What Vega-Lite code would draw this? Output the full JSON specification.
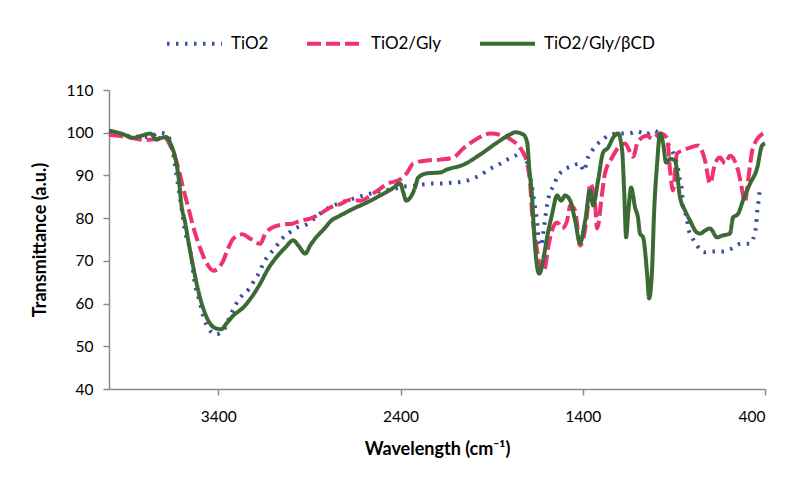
{
  "$schema": "https://vega.github.io/schema/vega-lite/v6.json",
  "autosize": "none",
  "width": 656,
  "height": 299,
  "padding": {"left": 109, "top": 90, "right": 28, "bottom": 91},
  "background": "white",
  "config": {
    "font": "Lato",
    "view": {"stroke": null},
    "axis": {
      "grid": false,
      "domainColor": "#8c8c8c",
      "domainWidth": 1.5,
      "tickColor": "#8c8c8c",
      "tickWidth": 1.5,
      "tickSize": 6,
      "labelColor": "#000000",
      "labelFontSize": 15.5,
      "titleFontSize": 18,
      "titleFontWeight": "bold",
      "titleColor": "#000000"
    },
    "legend": {"labelFontSize": 17, "labelColor": "#000000"}
  },
  "data": {
    "values": [
      {"s": "TiO2", "w": 4000, "t": 99.8}, {"s": "TiO2", "w": 3900, "t": 99.3}, {"s": "TiO2", "w": 3820, "t": 99.0}, {"s": "TiO2", "w": 3760, "t": 99.3}, {"s": "TiO2", "w": 3729, "t": 100}, {"s": "TiO2", "w": 3685, "t": 99.8}, {"s": "TiO2", "w": 3658, "t": 97}, {"s": "TiO2", "w": 3608, "t": 84}, {"s": "TiO2", "w": 3581, "t": 76.6}, {"s": "TiO2", "w": 3551, "t": 71.7}, {"s": "TiO2", "w": 3532, "t": 65.4}, {"s": "TiO2", "w": 3504, "t": 60.7}, {"s": "TiO2", "w": 3477, "t": 56.3}, {"s": "TiO2", "w": 3455, "t": 54.2}, {"s": "TiO2", "w": 3413, "t": 52.8}, {"s": "TiO2", "w": 3373, "t": 53.7}, {"s": "TiO2", "w": 3329, "t": 57.7}, {"s": "TiO2", "w": 3301, "t": 60}, {"s": "TiO2", "w": 3268, "t": 62}, {"s": "TiO2", "w": 3230, "t": 63.5}, {"s": "TiO2", "w": 3203, "t": 65.4}, {"s": "TiO2", "w": 3175, "t": 67.3}, {"s": "TiO2", "w": 3153, "t": 69.4}, {"s": "TiO2", "w": 3120, "t": 71.5}, {"s": "TiO2", "w": 3087, "t": 73.1}, {"s": "TiO2", "w": 3054, "t": 75}, {"s": "TiO2", "w": 3011, "t": 76.6}, {"s": "TiO2", "w": 2967, "t": 77.8}, {"s": "TiO2", "w": 2917, "t": 78.5}, {"s": "TiO2", "w": 2874, "t": 79.9}, {"s": "TiO2", "w": 2835, "t": 81.3}, {"s": "TiO2", "w": 2791, "t": 82.5}, {"s": "TiO2", "w": 2742, "t": 83.4}, {"s": "TiO2", "w": 2693, "t": 84.1}, {"s": "TiO2", "w": 2643, "t": 84.8}, {"s": "TiO2", "w": 2588, "t": 85.5}, {"s": "TiO2", "w": 2539, "t": 86}, {"s": "TiO2", "w": 2490, "t": 86.5}, {"s": "TiO2", "w": 2429, "t": 86.9}, {"s": "TiO2", "w": 2380, "t": 87.4}, {"s": "TiO2", "w": 2331, "t": 87.6}, {"s": "TiO2", "w": 2276, "t": 87.9}, {"s": "TiO2", "w": 2226, "t": 88.1}, {"s": "TiO2", "w": 2172, "t": 88.1}, {"s": "TiO2", "w": 2117, "t": 88.3}, {"s": "TiO2", "w": 2062, "t": 88.5}, {"s": "TiO2", "w": 2007, "t": 89.2}, {"s": "TiO2", "w": 1958, "t": 90.2}, {"s": "TiO2", "w": 1914, "t": 91.4}, {"s": "TiO2", "w": 1864, "t": 92.5}, {"s": "TiO2", "w": 1815, "t": 93.7}, {"s": "TiO2", "w": 1771, "t": 94.6}, {"s": "TiO2", "w": 1735, "t": 95.3}, {"s": "TiO2", "w": 1705, "t": 93}, {"s": "TiO2", "w": 1685, "t": 89}, {"s": "TiO2", "w": 1672, "t": 85.5}, {"s": "TiO2", "w": 1650, "t": 78.7}, {"s": "TiO2", "w": 1639, "t": 74}, {"s": "TiO2", "w": 1628, "t": 73.5}, {"s": "TiO2", "w": 1618, "t": 76.2}, {"s": "TiO2", "w": 1596, "t": 83}, {"s": "TiO2", "w": 1585, "t": 85.3}, {"s": "TiO2", "w": 1563, "t": 87.4}, {"s": "TiO2", "w": 1541, "t": 89.5}, {"s": "TiO2", "w": 1508, "t": 91.2}, {"s": "TiO2", "w": 1464, "t": 92.1}, {"s": "TiO2", "w": 1415, "t": 92.8}, {"s": "TiO2", "w": 1393, "t": 91}, {"s": "TiO2", "w": 1376, "t": 93.7}, {"s": "TiO2", "w": 1349, "t": 95.8}, {"s": "TiO2", "w": 1316, "t": 97.5}, {"s": "TiO2", "w": 1294, "t": 98.2}, {"s": "TiO2", "w": 1250, "t": 99.6}, {"s": "TiO2", "w": 1206, "t": 99.8}, {"s": "TiO2", "w": 1151, "t": 99.8}, {"s": "TiO2", "w": 1102, "t": 100.3}, {"s": "TiO2", "w": 1053, "t": 99.6}, {"s": "TiO2", "w": 1014, "t": 100.5}, {"s": "TiO2", "w": 981, "t": 99.8}, {"s": "TiO2", "w": 937, "t": 97.7}, {"s": "TiO2", "w": 910, "t": 95.8}, {"s": "TiO2", "w": 883, "t": 92.8}, {"s": "TiO2", "w": 866, "t": 88.8}, {"s": "TiO2", "w": 855, "t": 86}, {"s": "TiO2", "w": 850, "t": 82.3}, {"s": "TiO2", "w": 828, "t": 80}, {"s": "TiO2", "w": 822, "t": 77.8}, {"s": "TiO2", "w": 800, "t": 75.5}, {"s": "TiO2", "w": 773, "t": 73.6}, {"s": "TiO2", "w": 735, "t": 72}, {"s": "TiO2", "w": 685, "t": 72.2}, {"s": "TiO2", "w": 630, "t": 72.2}, {"s": "TiO2", "w": 581, "t": 72.9}, {"s": "TiO2", "w": 532, "t": 74}, {"s": "TiO2", "w": 482, "t": 74}, {"s": "TiO2", "w": 460, "t": 75.9}, {"s": "TiO2", "w": 449, "t": 78.2}, {"s": "TiO2", "w": 444, "t": 81}, {"s": "TiO2", "w": 438, "t": 83}, {"s": "TiO2", "w": 433, "t": 85}, {"s": "TiO2", "w": 427, "t": 87.4},

      {"s": "TiO2/Gly", "w": 4000, "t": 99.5}, {"s": "TiO2/Gly", "w": 3900, "t": 99.0}, {"s": "TiO2/Gly", "w": 3800, "t": 98.3}, {"s": "TiO2/Gly", "w": 3740, "t": 98.5}, {"s": "TiO2/Gly", "w": 3700, "t": 99}, {"s": "TiO2/Gly", "w": 3658, "t": 96.5}, {"s": "TiO2/Gly", "w": 3619, "t": 91.6}, {"s": "TiO2/Gly", "w": 3592, "t": 86.9}, {"s": "TiO2/Gly", "w": 3565, "t": 82.5}, {"s": "TiO2/Gly", "w": 3532, "t": 77.1}, {"s": "TiO2/Gly", "w": 3499, "t": 72.9}, {"s": "TiO2/Gly", "w": 3466, "t": 69.6}, {"s": "TiO2/Gly", "w": 3427, "t": 67.7}, {"s": "TiO2/Gly", "w": 3378, "t": 69.6}, {"s": "TiO2/Gly", "w": 3351, "t": 72.4}, {"s": "TiO2/Gly", "w": 3318, "t": 75.2}, {"s": "TiO2/Gly", "w": 3268, "t": 76.2}, {"s": "TiO2/Gly", "w": 3225, "t": 75.2}, {"s": "TiO2/Gly", "w": 3170, "t": 74}, {"s": "TiO2/Gly", "w": 3142, "t": 76.4}, {"s": "TiO2/Gly", "w": 3104, "t": 77.8}, {"s": "TiO2/Gly", "w": 3049, "t": 78.5}, {"s": "TiO2/Gly", "w": 2994, "t": 78.7}, {"s": "TiO2/Gly", "w": 2950, "t": 79.4}, {"s": "TiO2/Gly", "w": 2896, "t": 79.9}, {"s": "TiO2/Gly", "w": 2841, "t": 81}, {"s": "TiO2/Gly", "w": 2786, "t": 82.5}, {"s": "TiO2/Gly", "w": 2731, "t": 83.3}, {"s": "TiO2/Gly", "w": 2676, "t": 84.3}, {"s": "TiO2/Gly", "w": 2621, "t": 84.1}, {"s": "TiO2/Gly", "w": 2550, "t": 85.8}, {"s": "TiO2/Gly", "w": 2457, "t": 88.3}, {"s": "TiO2/Gly", "w": 2413, "t": 88.8}, {"s": "TiO2/Gly", "w": 2363, "t": 90.7}, {"s": "TiO2/Gly", "w": 2331, "t": 92.8}, {"s": "TiO2/Gly", "w": 2254, "t": 93.5}, {"s": "TiO2/Gly", "w": 2182, "t": 93.7}, {"s": "TiO2/Gly", "w": 2111, "t": 94.2}, {"s": "TiO2/Gly", "w": 2056, "t": 96.3}, {"s": "TiO2/Gly", "w": 1980, "t": 98.6}, {"s": "TiO2/Gly", "w": 1908, "t": 99.8}, {"s": "TiO2/Gly", "w": 1837, "t": 99.3}, {"s": "TiO2/Gly", "w": 1788, "t": 98.2}, {"s": "TiO2/Gly", "w": 1744, "t": 96.5}, {"s": "TiO2/Gly", "w": 1705, "t": 92.8}, {"s": "TiO2/Gly", "w": 1689, "t": 88.1}, {"s": "TiO2/Gly", "w": 1678, "t": 81}, {"s": "TiO2/Gly", "w": 1661, "t": 75.5}, {"s": "TiO2/Gly", "w": 1645, "t": 70.8}, {"s": "TiO2/Gly", "w": 1623, "t": 67.3}, {"s": "TiO2/Gly", "w": 1607, "t": 68.4}, {"s": "TiO2/Gly", "w": 1590, "t": 73.1}, {"s": "TiO2/Gly", "w": 1563, "t": 77.8}, {"s": "TiO2/Gly", "w": 1541, "t": 79}, {"s": "TiO2/Gly", "w": 1513, "t": 77.6}, {"s": "TiO2/Gly", "w": 1486, "t": 79.4}, {"s": "TiO2/Gly", "w": 1469, "t": 83}, {"s": "TiO2/Gly", "w": 1442, "t": 81.8}, {"s": "TiO2/Gly", "w": 1415, "t": 73.6}, {"s": "TiO2/Gly", "w": 1376, "t": 81}, {"s": "TiO2/Gly", "w": 1360, "t": 88.1}, {"s": "TiO2/Gly", "w": 1332, "t": 83}, {"s": "TiO2/Gly", "w": 1321, "t": 77.6}, {"s": "TiO2/Gly", "w": 1294, "t": 85.8}, {"s": "TiO2/Gly", "w": 1278, "t": 90.5}, {"s": "TiO2/Gly", "w": 1239, "t": 94.2}, {"s": "TiO2/Gly", "w": 1206, "t": 96.5}, {"s": "TiO2/Gly", "w": 1168, "t": 97.5}, {"s": "TiO2/Gly", "w": 1124, "t": 94.4}, {"s": "TiO2/Gly", "w": 1097, "t": 98}, {"s": "TiO2/Gly", "w": 1047, "t": 99.3}, {"s": "TiO2/Gly", "w": 1020, "t": 98.6}, {"s": "TiO2/Gly", "w": 976, "t": 99.8}, {"s": "TiO2/Gly", "w": 937, "t": 98.8}, {"s": "TiO2/Gly", "w": 921, "t": 91.2}, {"s": "TiO2/Gly", "w": 905, "t": 86.5}, {"s": "TiO2/Gly", "w": 883, "t": 95.1}, {"s": "TiO2/Gly", "w": 855, "t": 95.8}, {"s": "TiO2/Gly", "w": 811, "t": 96.5}, {"s": "TiO2/Gly", "w": 767, "t": 97}, {"s": "TiO2/Gly", "w": 729, "t": 93.5}, {"s": "TiO2/Gly", "w": 702, "t": 88.1}, {"s": "TiO2/Gly", "w": 674, "t": 92.8}, {"s": "TiO2/Gly", "w": 647, "t": 94.2}, {"s": "TiO2/Gly", "w": 619, "t": 92.8}, {"s": "TiO2/Gly", "w": 592, "t": 94.6}, {"s": "TiO2/Gly", "w": 548, "t": 91.2}, {"s": "TiO2/Gly", "w": 532, "t": 88.1}, {"s": "TiO2/Gly", "w": 510, "t": 83.7}, {"s": "TiO2/Gly", "w": 493, "t": 88.8}, {"s": "TiO2/Gly", "w": 466, "t": 96.5}, {"s": "TiO2/Gly", "w": 411, "t": 99.8}, {"s": "TiO2/Gly", "w": 400, "t": 100},

      {"s": "TiO2/Gly/βCD", "w": 4000, "t": 100.5}, {"s": "TiO2/Gly/βCD", "w": 3932, "t": 99.8}, {"s": "TiO2/Gly/βCD", "w": 3866, "t": 98.8}, {"s": "TiO2/Gly/βCD", "w": 3822, "t": 99.3}, {"s": "TiO2/Gly/βCD", "w": 3773, "t": 99.8}, {"s": "TiO2/Gly/βCD", "w": 3740, "t": 98.4}, {"s": "TiO2/Gly/βCD", "w": 3713, "t": 98.8}, {"s": "TiO2/Gly/βCD", "w": 3685, "t": 99}, {"s": "TiO2/Gly/βCD", "w": 3658, "t": 97}, {"s": "TiO2/Gly/βCD", "w": 3633, "t": 93.5}, {"s": "TiO2/Gly/βCD", "w": 3616, "t": 88.8}, {"s": "TiO2/Gly/βCD", "w": 3603, "t": 83.4}, {"s": "TiO2/Gly/βCD", "w": 3581, "t": 78.7}, {"s": "TiO2/Gly/βCD", "w": 3562, "t": 74}, {"s": "TiO2/Gly/βCD", "w": 3537, "t": 68.4}, {"s": "TiO2/Gly/βCD", "w": 3510, "t": 63}, {"s": "TiO2/Gly/βCD", "w": 3482, "t": 58.8}, {"s": "TiO2/Gly/βCD", "w": 3455, "t": 56}, {"s": "TiO2/Gly/βCD", "w": 3413, "t": 54.2}, {"s": "TiO2/Gly/βCD", "w": 3384, "t": 54}, {"s": "TiO2/Gly/βCD", "w": 3356, "t": 55.3}, {"s": "TiO2/Gly/βCD", "w": 3318, "t": 57.2}, {"s": "TiO2/Gly/βCD", "w": 3263, "t": 59.1}, {"s": "TiO2/Gly/βCD", "w": 3219, "t": 61.4}, {"s": "TiO2/Gly/βCD", "w": 3170, "t": 64.7}, {"s": "TiO2/Gly/βCD", "w": 3126, "t": 68.2}, {"s": "TiO2/Gly/βCD", "w": 3082, "t": 70.8}, {"s": "TiO2/Gly/βCD", "w": 3033, "t": 73.1}, {"s": "TiO2/Gly/βCD", "w": 2989, "t": 74.8}, {"s": "TiO2/Gly/βCD", "w": 2961, "t": 73.6}, {"s": "TiO2/Gly/βCD", "w": 2923, "t": 71.7}, {"s": "TiO2/Gly/βCD", "w": 2896, "t": 73.6}, {"s": "TiO2/Gly/βCD", "w": 2863, "t": 75.5}, {"s": "TiO2/Gly/βCD", "w": 2813, "t": 77.8}, {"s": "TiO2/Gly/βCD", "w": 2786, "t": 79.2}, {"s": "TiO2/Gly/βCD", "w": 2731, "t": 80.6}, {"s": "TiO2/Gly/βCD", "w": 2660, "t": 82.2}, {"s": "TiO2/Gly/βCD", "w": 2583, "t": 83.7}, {"s": "TiO2/Gly/βCD", "w": 2512, "t": 85.3}, {"s": "TiO2/Gly/βCD", "w": 2446, "t": 86.9}, {"s": "TiO2/Gly/βCD", "w": 2402, "t": 88.1}, {"s": "TiO2/Gly/βCD", "w": 2385, "t": 86}, {"s": "TiO2/Gly/βCD", "w": 2369, "t": 84.1}, {"s": "TiO2/Gly/βCD", "w": 2347, "t": 84.8}, {"s": "TiO2/Gly/βCD", "w": 2320, "t": 87.2}, {"s": "TiO2/Gly/βCD", "w": 2303, "t": 89.5}, {"s": "TiO2/Gly/βCD", "w": 2254, "t": 90.5}, {"s": "TiO2/Gly/βCD", "w": 2182, "t": 90.7}, {"s": "TiO2/Gly/βCD", "w": 2144, "t": 91.4}, {"s": "TiO2/Gly/βCD", "w": 2056, "t": 92.5}, {"s": "TiO2/Gly/βCD", "w": 1963, "t": 94.9}, {"s": "TiO2/Gly/βCD", "w": 1870, "t": 97.7}, {"s": "TiO2/Gly/βCD", "w": 1799, "t": 99.6}, {"s": "TiO2/Gly/βCD", "w": 1771, "t": 100.1}, {"s": "TiO2/Gly/βCD", "w": 1727, "t": 99.6}, {"s": "TiO2/Gly/βCD", "w": 1705, "t": 97.7}, {"s": "TiO2/Gly/βCD", "w": 1694, "t": 91.8}, {"s": "TiO2/Gly/βCD", "w": 1678, "t": 84.8}, {"s": "TiO2/Gly/βCD", "w": 1667, "t": 76.4}, {"s": "TiO2/Gly/βCD", "w": 1650, "t": 68.4}, {"s": "TiO2/Gly/βCD", "w": 1639, "t": 67}, {"s": "TiO2/Gly/βCD", "w": 1618, "t": 70.1}, {"s": "TiO2/Gly/βCD", "w": 1596, "t": 75.5}, {"s": "TiO2/Gly/βCD", "w": 1568, "t": 81}, {"s": "TiO2/Gly/βCD", "w": 1541, "t": 85.3}, {"s": "TiO2/Gly/βCD", "w": 1519, "t": 84.1}, {"s": "TiO2/Gly/βCD", "w": 1497, "t": 85.3}, {"s": "TiO2/Gly/βCD", "w": 1469, "t": 84.1}, {"s": "TiO2/Gly/βCD", "w": 1442, "t": 79.4}, {"s": "TiO2/Gly/βCD", "w": 1415, "t": 74.2}, {"s": "TiO2/Gly/βCD", "w": 1387, "t": 79.4}, {"s": "TiO2/Gly/βCD", "w": 1360, "t": 86.5}, {"s": "TiO2/Gly/βCD", "w": 1343, "t": 83}, {"s": "TiO2/Gly/βCD", "w": 1316, "t": 88.8}, {"s": "TiO2/Gly/βCD", "w": 1288, "t": 95.4}, {"s": "TiO2/Gly/βCD", "w": 1261, "t": 96.5}, {"s": "TiO2/Gly/βCD", "w": 1234, "t": 98.8}, {"s": "TiO2/Gly/βCD", "w": 1206, "t": 99.8}, {"s": "TiO2/Gly/βCD", "w": 1184, "t": 95.8}, {"s": "TiO2/Gly/βCD", "w": 1173, "t": 86.5}, {"s": "TiO2/Gly/βCD", "w": 1162, "t": 75.5}, {"s": "TiO2/Gly/βCD", "w": 1151, "t": 81}, {"s": "TiO2/Gly/βCD", "w": 1135, "t": 87.2}, {"s": "TiO2/Gly/βCD", "w": 1113, "t": 82.5}, {"s": "TiO2/Gly/βCD", "w": 1097, "t": 80.1}, {"s": "TiO2/Gly/βCD", "w": 1086, "t": 76.4}, {"s": "TiO2/Gly/βCD", "w": 1069, "t": 75.5}, {"s": "TiO2/Gly/βCD", "w": 1047, "t": 67}, {"s": "TiO2/Gly/βCD", "w": 1036, "t": 61.2}, {"s": "TiO2/Gly/βCD", "w": 1020, "t": 67.7}, {"s": "TiO2/Gly/βCD", "w": 1009, "t": 81}, {"s": "TiO2/Gly/βCD", "w": 992, "t": 92.8}, {"s": "TiO2/Gly/βCD", "w": 976, "t": 99.8}, {"s": "TiO2/Gly/βCD", "w": 959, "t": 97.5}, {"s": "TiO2/Gly/βCD", "w": 943, "t": 93}, {"s": "TiO2/Gly/βCD", "w": 921, "t": 93.9}, {"s": "TiO2/Gly/βCD", "w": 894, "t": 93.5}, {"s": "TiO2/Gly/βCD", "w": 866, "t": 84.8}, {"s": "TiO2/Gly/βCD", "w": 839, "t": 81.8}, {"s": "TiO2/Gly/βCD", "w": 811, "t": 79.4}, {"s": "TiO2/Gly/βCD", "w": 773, "t": 76.6}, {"s": "TiO2/Gly/βCD", "w": 756, "t": 76.4}, {"s": "TiO2/Gly/βCD", "w": 729, "t": 77.1}, {"s": "TiO2/Gly/βCD", "w": 702, "t": 77.6}, {"s": "TiO2/Gly/βCD", "w": 663, "t": 75.5}, {"s": "TiO2/Gly/βCD", "w": 636, "t": 75.9}, {"s": "TiO2/Gly/βCD", "w": 592, "t": 76.4}, {"s": "TiO2/Gly/βCD", "w": 576, "t": 80.1}, {"s": "TiO2/Gly/βCD", "w": 548, "t": 81}, {"s": "TiO2/Gly/βCD", "w": 521, "t": 84.1}, {"s": "TiO2/Gly/βCD", "w": 482, "t": 88.1}, {"s": "TiO2/Gly/βCD", "w": 444, "t": 91.6}, {"s": "TiO2/Gly/βCD", "w": 416, "t": 97}, {"s": "TiO2/Gly/βCD", "w": 400, "t": 97.5}
    ]
  },
  "mark": {"type": "line", "strokeWidth": 4, "interpolate": "monotone"},
  "encoding": {
    "x": {
      "field": "w",
      "type": "quantitative",
      "scale": {"domain": [400, 4000], "reverse": true, "nice": false},
      "axis": {"values": [3400, 2400, 1400, 400], "format": "d", "labelPadding": 14, "title": "Wavelength (cm⁻¹)", "titlePadding": 16}
    },
    "y": {
      "field": "t",
      "type": "quantitative",
      "scale": {"domain": [40, 110], "nice": false, "zero": false},
      "axis": {"values": [40, 50, 60, 70, 80, 90, 100, 110], "labelPadding": 10, "title": "Transmittance (a.u.)", "titlePadding": 17}
    },
    "color": {
      "field": "s",
      "type": "nominal",
      "scale": {"domain": ["TiO2", "TiO2/Gly", "TiO2/Gly/βCD"], "range": ["#3a4ea6", "#ee3370", "#3c6a34"]},
      "legend": {
        "title": null,
        "orient": "none",
        "direction": "horizontal",
        "legendX": 56,
        "legendY": -76,
        "symbolType": "stroke",
        "symbolSize": 3025,
        "symbolStrokeWidth": 4,
        "columnPadding": 30,
        "labelOffset": 7,
        "padding": 0
      }
    },
    "strokeDash": {
      "field": "s",
      "type": "nominal",
      "scale": {"domain": ["TiO2", "TiO2/Gly", "TiO2/Gly/βCD"], "range": [[2.5, 6.5], [14, 5], [1, 0]]},
      "legend": null
    }
  }
}
